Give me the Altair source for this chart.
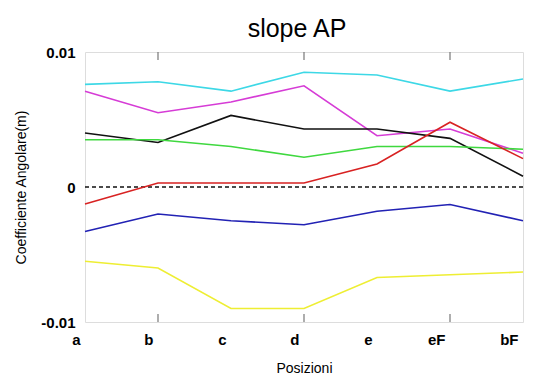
import altair as alt
import pandas as pd

positions = ["a", "b", "c", "d", "e", "eF", "bF"]
series_names = ["cyan", "magenta", "black", "green", "red", "blue", "yellow"]
series_colors = ["#3dd8e6", "#d63cd6", "#111111", "#3fd83f", "#d82222", "#2222b4", "#eeee33"]

cyan = [0.0076, 0.0078, 0.0071, 0.0085, 0.0083, 0.0071, 0.0080]
magenta = [0.0071, 0.0055, 0.0063, 0.0075, 0.0038, 0.0043, 0.0025]
black = [0.0040, 0.0033, 0.0053, 0.0043, 0.0043, 0.0036, 0.0008]
green = [0.0035, 0.0035, 0.0030, 0.0022, 0.0030, 0.0030, 0.0028]
red = [-0.00126, 0.0003, 0.0003, 0.0003, 0.0017, 0.0048, 0.0021]
blue = [-0.0033, -0.0020, -0.0025, -0.0028, -0.0018, -0.0013, -0.0025]
yellow = [-0.0055, -0.0060, -0.0090, -0.0090, -0.0067, -0.0065, -0.0063]

y_ticks = [-0.01, 0, 0.01]
x_tick_positions = ["b", "d", "eF"]

all_series = [cyan, magenta, black, green, red, blue, yellow]
rows = []
for name, vals in zip(series_names, all_series):
    for p, v in zip(positions, vals):
        rows.append({"pos": p, "val": v, "series": name})
df = pd.DataFrame(rows)

xscale = alt.Scale(type="point", domain=positions, padding=0)
yscale = alt.Scale(domain=[-0.01, 0.01], nice=False)

x_enc = alt.X("pos:N", scale=xscale, sort=positions,
              axis=alt.Axis(title="Posizioni", labelAngle=0, ticks=False, domain=False,
                            labelFontSize=15, labelFontWeight="bold", labelPadding=17,
                            labelOffset=-5, labelFlush=False,
                            titleFontSize=14, titleFontWeight="normal", titlePadding=14,
                            labelColor="#000", titleColor="#000",
                            labelFont="Liberation Sans", titleFont="Liberation Sans"))
y_enc = alt.Y("val:Q", scale=yscale,
              axis=alt.Axis(title="Coefficiente Angolare(m)", values=y_ticks, grid=False,
                            ticks=False, domain=False, labelFontSize=15, labelFontWeight="bold",
                            labelPadding=10, labelFlush=False,
                            labelExpr="datum.value > 0.001 ? '0.01' : (datum.value < -0.001 ? '-0.01' : '0')",
                            titleFontSize=14, titleFontWeight="normal", titlePadding=12,
                            labelColor="#000", titleColor="#000",
                            labelFont="Liberation Sans", titleFont="Liberation Sans"))

lines = alt.Chart(df).mark_line(strokeWidth=1.6).encode(
    x=x_enc, y=y_enc,
    color=alt.Color("series:N", scale=alt.Scale(domain=series_names, range=series_colors), legend=None),
    detail="series:N",
)

zero = alt.Chart(pd.DataFrame({"z": [0]})).mark_rule(color="#111", strokeDash=[4, 3], strokeWidth=1.5).encode(
    y=alt.Y("z:Q", scale=yscale)
)

tick_df = pd.DataFrame({"pos": x_tick_positions * 2,
                        "y1": [-0.01] * 3 + [0.01] * 3,
                        "y2": [-0.0094] * 3 + [0.0094] * 3})
ticks = alt.Chart(tick_df).mark_rule(color="#777", strokeWidth=1.2).encode(
    x=alt.X("pos:N", scale=xscale, sort=positions),
    y=alt.Y("y1:Q", scale=yscale),
    y2="y2:Q",
)

chart = alt.layer(ticks, zero, lines).properties(
    width=438, height=270,
    title=alt.TitleParams("slope AP", fontSize=25, fontWeight="normal", font="Liberation Sans",
                          color="#000", anchor="middle", offset=3, dx=-7),
    autosize=alt.AutoSizeParams(type="none"),
    padding={"left": 77, "top": 44, "right": 2, "bottom": 54},
).configure_view(stroke="#888", strokeWidth=1.2).configure(background="white")

chart.save("out.html", embed_options={"renderer": "svg", "actions": False})
